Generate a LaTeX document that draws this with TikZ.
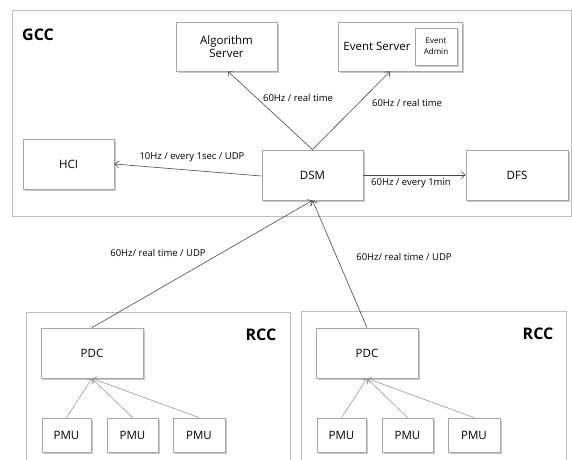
\documentclass[tikz,border=0pt]{standalone}
\usepackage{fontspec}
\setmainfont{Open Sans}
\usetikzlibrary{arrows.meta,shadows,calc}
\definecolor{boxline}{HTML}{A6A6A6}
\definecolor{frameline}{HTML}{BDBDBD}
\definecolor{arrowdark}{HTML}{4A4A4A}
\definecolor{arrowlight}{HTML}{9A9A9A}
\begin{document}
\begin{tikzpicture}[x=1pt,y=-1pt,
  box/.style={draw=boxline,line width=0.8pt,fill=white,inner sep=0pt,
    drop shadow={shadow xshift=1.6pt,shadow yshift=-1.6pt,fill=black!35,opacity=0.6},
    font=\fontsize{11.5}{13}\selectfont,align=center},
  frame/.style={draw=frameline,line width=0.8pt},
  title/.style={font=\fontsize{16}{18}\selectfont\bfseries},
  lbl/.style={font=\fontsize{9.5}{11}\selectfont,inner sep=0pt},
  link/.style={draw=arrowdark,line width=0.6pt,-{Straight Barb[length=4pt,width=7pt]}},
  sublink/.style={draw=arrowlight,line width=0.6pt,-{Straight Barb[length=4pt,width=7pt]}}
]
\useasboundingbox (0,0) rectangle (572,459);
\clip (0,0) rectangle (572,459);
\fill[white] (0,0) rectangle (572,459);

% containers
\draw[frame] (12,10) rectangle (571,216);
\draw[frame] (26,312) rectangle (290,470);
\draw[frame] (301,311) rectangle (566,470);
\node[title] (gcc) at (38,35) {GCC};
\node[title] (rcc1) at (261,335) {RCC};
\node[title] (rcc2) at (538,334) {RCC};

% GCC boxes
\node[box,minimum width=101pt,minimum height=49pt] (alg) at (226.5,46.5) {Algorithm\\Server};
\node[box,minimum width=124pt,minimum height=49pt] (evt) at (400,46.5) {};
\node[font=\fontsize{11.5}{13}\selectfont,inner sep=0pt] (evtlbl) at (377,46.5) {Event Server};
\node[box,minimum width=42pt,minimum height=37pt,font=\fontsize{8}{11}\selectfont] (adm) at (436,46.5) {Event\\Admin};
\node[box,minimum width=91pt,minimum height=50pt] (hci) at (68.5,164) {HCI};
\node[box,minimum width=101pt,minimum height=50pt] (dsm) at (312.5,175) {DSM};
\node[box,minimum width=102pt,minimum height=50pt] (dfs) at (517,175) {DFS};

% RCC boxes
\node[box,minimum width=102pt,minimum height=50pt] (pdca) at (92,353) {PDC};
\node[box,minimum width=102pt,minimum height=50pt] (pdcb) at (367,353) {PDC};
\node[box,minimum width=49pt,minimum height=34pt] (pmua1) at (66.5,435) {PMU};
\node[box,minimum width=51pt,minimum height=34pt] (pmua2) at (132.5,435) {PMU};
\node[box,minimum width=52pt,minimum height=34pt] (pmua3) at (199,435) {PMU};
\node[box,minimum width=49pt,minimum height=34pt] (pmub1) at (341.5,435) {PMU};
\node[box,minimum width=51pt,minimum height=34pt] (pmub2) at (407.5,435) {PMU};
\node[box,minimum width=52pt,minimum height=34pt] (pmub3) at (474,435) {PMU};

% connectors
\draw[link] (dsm.north) -- ([xshift=1.5pt]alg.south);
\draw[link] (dsm.north) -- ([xshift=-10pt]evt.south);
\draw[link] ([yshift=-1pt]dsm.west) -- (hci.east);
\draw[link] (dsm.east) -- (dfs.west);
\draw[link] (pdca.north) -- (dsm.south);
\draw[link] (pdcb.north) -- (dsm.south);
\foreach \p in {pmua1,pmua2,pmua3} \draw[sublink] (\p.north) -- (pdca.south);
\foreach \p in {pmub1,pmub2,pmub3} \draw[sublink] (\p.north) -- (pdcb.south);

% labels
\node[lbl] (l1) at (298,98) {60Hz / real time};
\node[lbl] (l2) at (407,103) {60Hz / real time};
\node[lbl] (l3) at (192,157) {10Hz / every 1sec / UDP};
\node[lbl] (l4) at (411,183) {60Hz / every 1min};
\node[lbl] (l5) at (158,253) {60Hz/ real time / UDP};
\node[lbl] (l6) at (404,257) {60Hz/ real time / UDP};
\end{tikzpicture}
\end{document}
